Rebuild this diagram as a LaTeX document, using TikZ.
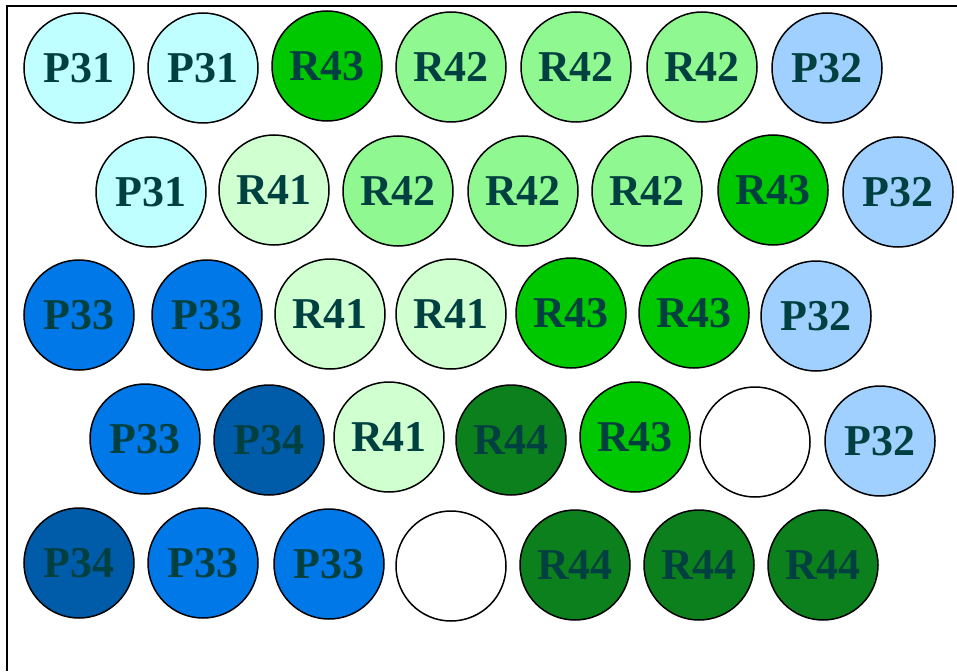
\documentclass[tikz,border=0pt]{standalone}
\usepackage{fontspec}
\setmainfont{Liberation Serif}
\definecolor{cP31}{HTML}{C0FFFF}
\definecolor{cP32}{HTML}{A0D0FF}
\definecolor{cP33}{HTML}{0078E8}
\definecolor{cP34}{HTML}{005CA8}
\definecolor{cR41}{HTML}{D0FFD0}
\definecolor{cR42}{HTML}{90F890}
\definecolor{cR43}{HTML}{00C800}
\definecolor{cR44}{HTML}{0C801C}
\definecolor{txt}{HTML}{004040}
\begin{document}
\begin{tikzpicture}[x=1pt,y=-1pt,
  cell/.style={circle,draw=black,line width=1.5pt,minimum size=110pt,inner sep=0pt,
    font=\fontsize{44}{44}\selectfont\bfseries,text=txt},
  frame/.style={line width=2.5pt,black}]
\useasboundingbox (0,0) rectangle (957,671);
\coordinate (tl) at (7,6);
\coordinate (tr) at (957,6);
\coordinate (bl) at (7,671);
\draw[frame] (tr) -- (tl) -- (bl);
% row 1
\node[cell,fill=cP31] (a1) at (79,68) {P31};
\node[cell,fill=cP31] (a2) at (203,68) {P31};
\node[cell,fill=cR43] (a3) at (327,66) {R43};
\node[cell,fill=cR42] (a4) at (451,67) {R42};
\node[cell,fill=cR42] (a5) at (576,67) {R42};
\node[cell,fill=cR42] (a6) at (702,67) {R42};
\node[cell,fill=cP32] (a7) at (827,68) {P32};
% row 2
\node[cell,fill=cP31] (b1) at (151,192) {P31};
\node[cell,fill=cR41] (b2) at (274,190) {R41};
\node[cell,fill=cR42] (b3) at (398,191) {R42};
\node[cell,fill=cR42] (b4) at (523,191) {R42};
\node[cell,fill=cR42] (b5) at (647,191) {R42};
\node[cell,fill=cR43] (b6) at (773,190) {R43};
\node[cell,fill=cP32] (b7) at (898,192) {P32};
% row 3
\node[cell,fill=cP33] (c1) at (79,315) {P33};
\node[cell,fill=cP33] (c2) at (207,315) {P33};
\node[cell,fill=cR41] (c3) at (330,314) {R41};
\node[cell,fill=cR41] (c4) at (451,314) {R41};
\node[cell,fill=cR43] (c5) at (571,313) {R43};
\node[cell,fill=cR43] (c6) at (694,313) {R43};
\node[cell,fill=cP32] (c7) at (816,316) {P32};
% row 4
\node[cell,fill=cP33] (d1) at (145,439) {P33};
\node[cell,fill=cP34] (d2) at (269,440) {P34};
\node[cell,fill=cR41] (d3) at (389,437) {R41};
\node[cell,fill=cR44] (d4) at (511,440) {R44};
\node[cell,fill=cR43] (d5) at (635,437) {R43};
\node[cell,fill=white] (d6) at (755,442) {};
\node[cell,fill=cP32] (d7) at (880,441) {P32};
% row 5
\node[cell,fill=cP34] (e1) at (79,563) {P34};
\node[cell,fill=cP33] (e2) at (203,563) {P33};
\node[cell,fill=cP33] (e3) at (329,564) {P33};
\node[cell,fill=white] (e4) at (451,566) {};
\node[cell,fill=cR44] (e5) at (575,565) {R44};
\node[cell,fill=cR44] (e6) at (699,565) {R44};
\node[cell,fill=cR44] (e7) at (823,565) {R44};
\end{tikzpicture}
\end{document}
